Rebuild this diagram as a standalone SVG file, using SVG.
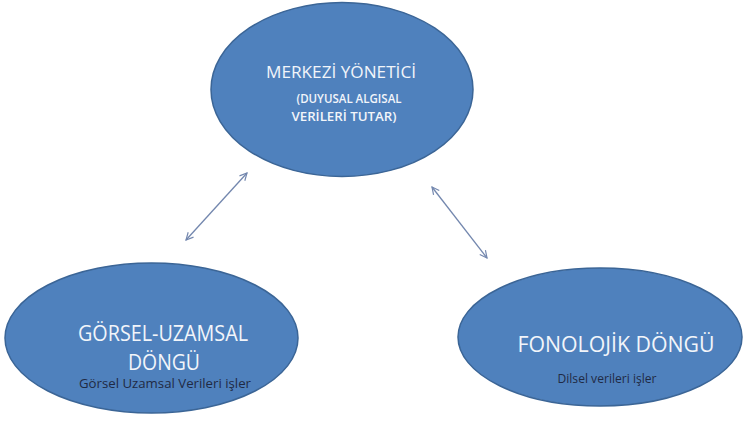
<svg xmlns="http://www.w3.org/2000/svg" width="743" height="426" viewBox="0 0 743 426">
<defs>
<style>
.node{fill:#4F81BD;stroke:#3B6596;stroke-width:1.5}
.t{font-family:"Open Sans","Liberation Sans",sans-serif;fill:#F2F5FA;text-anchor:middle}
.s{font-family:"Open Sans","Liberation Sans",sans-serif;fill:#1F2A44;text-anchor:middle;font-size:12px}
.c{stroke:#7387AE;stroke-width:1.3;fill:none;marker-start:url(#ah);marker-end:url(#ah)}
</style>
<marker id="ah" viewBox="0 0 10 10" refX="9" refY="5" markerWidth="9" markerHeight="9" orient="auto-start-reverse" markerUnits="userSpaceOnUse">
<path d="M1,1 L9,5 L1,9" fill="none" stroke="#7387AE" stroke-width="1.3"/>
</marker>
</defs>
<rect width="743" height="426" fill="#FFFFFF"/>
<g id="connectors">
<line class="c" x1="186" y1="240" x2="247" y2="173"/>
<line class="c" x1="432" y1="187" x2="487" y2="258"/>
</g>
<g id="merkezi">
<ellipse class="node" cx="342" cy="89.5" rx="131" ry="87"/>
<text class="t" x="341" y="78" font-size="17" textLength="150" lengthAdjust="spacingAndGlyphs">MERKEZİ YÖNETİCİ</text>
<text class="t" x="349" y="103" font-size="12" font-weight="600" textLength="105" lengthAdjust="spacingAndGlyphs">(DUYUSAL ALGISAL</text>
<text class="t" x="344" y="121" font-size="12" font-weight="600" textLength="105" lengthAdjust="spacingAndGlyphs">VERİLERİ TUTAR)</text>
</g>
<g id="gorsel">
<ellipse class="node" cx="151.5" cy="338" rx="146.5" ry="75"/>
<text class="t" x="163" y="341" font-size="21" textLength="170" lengthAdjust="spacingAndGlyphs">GÖRSEL-UZAMSAL</text>
<text class="t" x="164" y="370" font-size="21" textLength="72" lengthAdjust="spacingAndGlyphs">DÖNGÜ</text>
<text class="s" x="165" y="388" textLength="172" lengthAdjust="spacingAndGlyphs">Görsel Uzamsal Verileri işler</text>
</g>
<g id="fonolojik">
<ellipse class="node" cx="600" cy="337" rx="142" ry="69"/>
<text class="t" x="616" y="352" font-size="21" textLength="197" lengthAdjust="spacingAndGlyphs">FONOLOJİK DÖNGÜ</text>
<text class="s" x="607" y="383" textLength="99" lengthAdjust="spacingAndGlyphs">Dilsel verileri işler</text>
</g>
</svg>
